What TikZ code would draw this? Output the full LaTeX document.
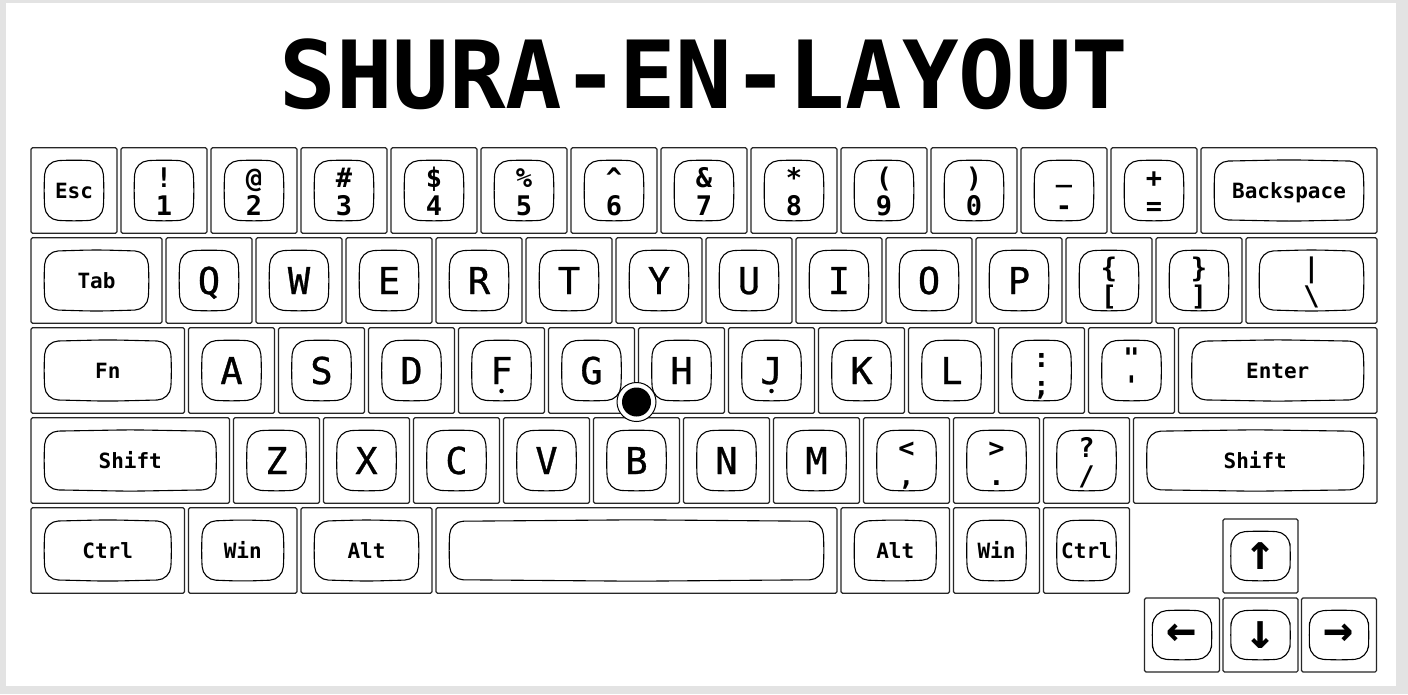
\documentclass[tikz,border=0pt]{standalone}
\usepackage{fontspec}
\setmonofont{DejaVu Sans Mono}
\newfontfamily\keyfont{DejaVu Sans Mono}[FakeBold=0.8]
\usepackage{tikz}
\usetikzlibrary{positioning}

\tikzset{
  keybox/.style={draw=black!85, line width=1.1pt, rounded corners=1.5pt, minimum height=85.5pt, inner sep=0pt},
  capbox/.style={minimum height=58pt, inner sep=0pt},
  capline/.style={draw=black, line width=1.1pt, rounded corners=13pt},
  letter/.style={font=\keyfont\fontsize{37}{37}\selectfont, text height=27pt, text depth=0pt},
  modkey/.style={font=\ttfamily\bfseries\fontsize{21}{21}\selectfont, text height=15.3pt, text depth=0pt},
  dual/.style={font=\ttfamily\bfseries\fontsize{27}{27}\selectfont, anchor=base, inner sep=0pt},
  arrowkey/.style={font=\ttfamily\bfseries\fontsize{50}{50}\selectfont}
}

\newcommand{\capline}[1]{%
  \draw[capline] ([yshift=1.5pt]#1.north) -- (#1.north east) -- ([xshift=1.5pt]#1.east)
    -- (#1.south east) -- ([yshift=-1.5pt]#1.south) -- (#1.south west)
    -- ([xshift=-1.5pt]#1.west) -- (#1.north west) -- cycle;}

\newcommand{\kkey}[6][letter]{%
  \node[keybox, minimum width={#5*90pt-4pt}] (#2) at ({29+#3*90+#5*45},{190.5+#4*90}) {};
  \node[capbox, #1, minimum width={#5*90pt-33pt}] (#2c) at (#2.center) {#6};
  \capline{#2c}}

\newcommand{\dkey}[6]{%
  \kkey[]{#1}{#2}{#3}{#4}{}
  \node[dual] (#1t) at ([yshift=3pt]#1.center) {#5};
  \node[dual] (#1b) at ([yshift=-25pt]#1.center) {#6};}

\newcommand{\akey}[4]{%
  \node[keybox, minimum width=75pt, minimum height=74pt] (#1) at (#2,#3) {};
  \node[capbox, minimum width=57pt, minimum height=47pt] (#1c) at (#1.center) {};
  \node[arrowkey, inner sep=0pt] (#1t) at (#1c.center) {#4};
  \capline{#1c}}

\begin{document}
\begin{tikzpicture}[x=1pt,y=-1pt]
  \useasboundingbox (0,0) rectangle (1408,694);
  \fill[black!11] (0,0) rectangle (1408,694);
  \fill[white] (6,3) rectangle (1396,686);

  \node[font=\ttfamily\bfseries\fontsize{94}{94}\selectfont, anchor=base, inner sep=0pt] (title) at (704,108) {SHURA-EN-LAYOUT};

  \kkey[modkey]{esc}{0}{0}{1}{Esc}
  \dkey{k1}{1}{0}{1}{!}{1}
  \dkey{k2}{2}{0}{1}{@}{2}
  \dkey{k3}{3}{0}{1}{\#}{3}
  \dkey{k4}{4}{0}{1}{\$}{4}
  \dkey{k5}{5}{0}{1}{\%}{5}
  \dkey{k6}{6}{0}{1}{\symbol{"5E}}{6}
  \dkey{k7}{7}{0}{1}{\&}{7}
  \dkey{k8}{8}{0}{1}{*}{8}
  \dkey{k9}{9}{0}{1}{(}{9}
  \dkey{k0}{10}{0}{1}{)}{0}
  \dkey{kminus}{11}{0}{1}{\raisebox{6pt}{\_}}{-}
  \dkey{kequal}{12}{0}{1}{+}{=}
  \kkey[modkey]{bsp}{13}{0}{2}{Backspace}

  \kkey[modkey]{tab}{0}{1}{1.5}{Tab}
  \kkey{kq}{1.5}{1}{1}{Q}
  \kkey{kw}{2.5}{1}{1}{W}
  \kkey{ke}{3.5}{1}{1}{E}
  \kkey{kr}{4.5}{1}{1}{R}
  \kkey{kt}{5.5}{1}{1}{T}
  \kkey{ky}{6.5}{1}{1}{Y}
  \kkey{ku}{7.5}{1}{1}{U}
  \kkey{ki}{8.5}{1}{1}{I}
  \kkey{ko}{9.5}{1}{1}{O}
  \kkey{kp}{10.5}{1}{1}{P}
  \dkey{klbr}{11.5}{1}{1}{\{}{[}
  \dkey{krbr}{12.5}{1}{1}{\}}{]}
  \dkey{kbsl}{13.5}{1}{1.5}{|}{\textbackslash}

  \kkey[modkey]{fn}{0}{2}{1.75}{Fn}
  \kkey{ka}{1.75}{2}{1}{A}
  \kkey{ks}{2.75}{2}{1}{S}
  \kkey{kd}{3.75}{2}{1}{D}
  \kkey{kf}{4.75}{2}{1}{F}
  \kkey{kg}{5.75}{2}{1}{G}
  \kkey{kh}{6.75}{2}{1}{H}
  \kkey{kj}{7.75}{2}{1}{J}
  \kkey{kk}{8.75}{2}{1}{K}
  \kkey{kl}{9.75}{2}{1}{L}
  \dkey{ksemi}{10.75}{2}{1}{:}{;}
  \dkey{kquote}{11.75}{2}{1}{\symbol{"22}}{\symbol{"27}}
  \kkey[modkey]{enter}{12.75}{2}{2.25}{Enter}

  \kkey[modkey]{lshift}{0}{3}{2.25}{Shift}
  \kkey{kz}{2.25}{3}{1}{Z}
  \kkey{kx}{3.25}{3}{1}{X}
  \kkey{kc}{4.25}{3}{1}{C}
  \kkey{kv}{5.25}{3}{1}{V}
  \kkey{kb}{6.25}{3}{1}{B}
  \kkey{kn}{7.25}{3}{1}{N}
  \kkey{km}{8.25}{3}{1}{M}
  \dkey{kcomma}{9.25}{3}{1}{<}{,}
  \dkey{kdot}{10.25}{3}{1}{>}{.}
  \dkey{kslash}{11.25}{3}{1}{?}{/}
  \kkey[modkey]{rshift}{12.25}{3}{2.75}{Shift}

  \kkey[modkey]{lctrl}{0}{4}{1.75}{Ctrl}
  \kkey[modkey]{lwin}{1.75}{4}{1.25}{Win}
  \kkey[modkey]{lalt}{3}{4}{1.5}{Alt}
  \kkey[modkey]{space}{4.5}{4}{4.5}{}
  \kkey[modkey]{ralt}{9}{4}{1.25}{Alt}
  \kkey[modkey]{rwin}{10.25}{4}{1}{Win}
  \kkey[modkey]{rctrl}{11.25}{4}{1}{Ctrl}

  \akey{up}{1260.5}{556}{↑}
  \akey{left}{1182}{635}{←}
  \akey{down}{1260.5}{635}{↓}
  \akey{right}{1339}{635}{→}

  \node[circle, fill=black, minimum size=4.5pt, inner sep=0pt] (fbump) at ([yshift=-20.5pt]kf.center) {};
  \node[circle, fill=black, minimum size=4.5pt, inner sep=0pt] (jbump) at ([yshift=-20.5pt]kj.center) {};

  \node[circle, draw=black, line width=1pt, fill=white, minimum size=39pt, inner sep=0pt] (tp) at (636.5,402) {};
  \node[circle, fill=black, minimum size=29pt, inner sep=0pt] (tpdot) at (tp) {};
\end{tikzpicture}
\end{document}
